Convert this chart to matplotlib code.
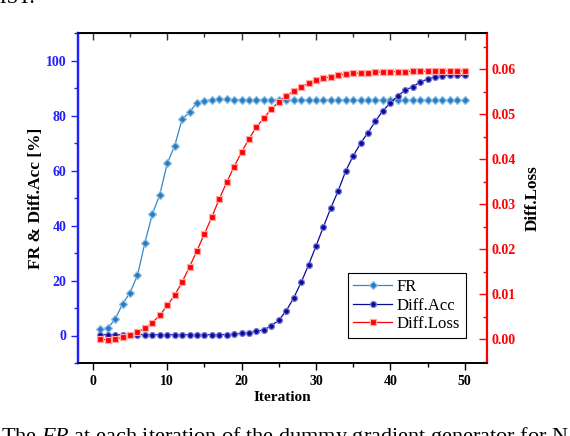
import matplotlib
matplotlib.use("Agg")
import matplotlib.pyplot as plt
from matplotlib.ticker import MultipleLocator

iterations = list(range(1, 51))

fr = [2.4, 2.7, 6.0, 11.5, 15.6, 21.9, 33.8, 44.2, 51.2, 62.6,
      69.0, 78.6, 81.2, 84.7, 85.4, 85.8, 85.9, 85.9, 85.8, 85.8,
      85.8, 85.8, 85.8, 85.8, 85.8, 85.7, 85.7, 85.7, 85.7, 85.7,
      85.7, 85.7, 85.6, 85.6, 85.6, 85.5, 85.5, 85.5, 85.5, 85.5,
      85.5, 85.5, 85.5, 85.5, 85.5, 85.5, 85.5, 85.5, 85.5, 85.5]

diff_acc = [0.3, 0.3, 0.3, 0.3, 0.3, 0.3, 0.3, 0.3, 0.3, 0.3,
            0.3, 0.3, 0.3, 0.3, 0.3, 0.3, 0.3, 0.35, 0.4, 0.8,
            1.0, 1.6, 2.0, 3.6, 5.5, 9.0, 13.6, 19.3, 25.6, 32.5,
            39.5, 46.4, 52.7, 59.8, 65.3, 69.9, 73.8, 77.9, 81.8, 84.5,
            87.2, 89.2, 90.5, 92.1, 93.3, 94.0, 94.5, 94.6, 94.6, 94.6]

diff_loss = [0.0000, -0.00015, 0.0000, 0.0004, 0.0009, 0.0015, 0.0025, 0.0037, 0.0053, 0.0075,
             0.0098, 0.0127, 0.0161, 0.0197, 0.0234, 0.0272, 0.0312, 0.0349, 0.0384, 0.0416,
             0.0446, 0.0472, 0.0492, 0.0512, 0.0528, 0.0541, 0.0552, 0.0561, 0.0569, 0.0576,
             0.0580, 0.0584, 0.0587, 0.0590, 0.0591, 0.0592, 0.0593, 0.0594, 0.0594, 0.0595,
             0.0595, 0.0595, 0.0596, 0.0596, 0.0596, 0.0596, 0.0597, 0.0597, 0.0597, 0.0597]

x_ticks = [0, 10, 20, 30, 40, 50]
left_ticks = [0, 20, 40, 60, 80, 100]
right_ticks = [0.00, 0.01, 0.02, 0.03, 0.04, 0.05, 0.06]

plt.rcParams['font.family'] = ['Liberation Serif', 'DejaVu Serif']
plt.rcParams['mathtext.fontset'] = 'custom'
plt.rcParams['mathtext.it'] = 'Liberation Serif:italic'
plt.rcParams['mathtext.rm'] = 'Liberation Serif'

BLUE_AX = '#2020ff'
RED_AX = '#ff0000'
C_FR = '#3388c8'
C_ACC = '#0a0a9a'
C_LOSS = '#ff0000'

fig = plt.figure(figsize=(5.7, 4.36), dpi=100)
ax = fig.add_axes([78/570, 1 - 363/436, (487-78)/570, (363-33)/436])
ax2 = ax.twinx()

l1, = ax.plot(iterations, fr, color=C_FR, lw=0.9, marker='D', ms=3.9,
              mfc='#2a7cc0', mec='#8cc0e6', mew=0.9, label='FR')
l2, = ax.plot(iterations, diff_acc, color=C_ACC, lw=0.9, marker='o', ms=4.2,
              mfc='#0a0a9a', mec='#7a7ad8', mew=0.9, label='Diff.Acc')
l3, = ax2.plot(iterations, diff_loss, color=C_LOSS, lw=0.9, marker='s', ms=4.2,
               mfc='#ff0000', mec='#ffa8a8', mew=0.9, label='Diff.Loss')

ax.set_xlim(-2, 53)
ax.set_ylim(-10, 110)
ax2.set_ylim(-0.0053, 0.0681)

ax.set_xticks(x_ticks)
ax.xaxis.set_minor_locator(MultipleLocator(5))
ax.set_yticks(left_ticks)
ax.yaxis.set_minor_locator(MultipleLocator(10))
ax2.set_yticks(right_ticks)
ax2.yaxis.set_minor_locator(MultipleLocator(0.005))
ax2.set_yticklabels(['%.2f' % v for v in right_ticks])

ax.tick_params(axis='x', which='both', direction='out', top=False, bottom=True,
               colors='black', labelsize=10, width=1.0)
ax.tick_params(axis='x', which='major', length=5)
ax.tick_params(axis='x', which='minor', length=3)

secx = ax.secondary_xaxis('top')
secx.set_xticks(x_ticks)
secx.xaxis.set_minor_locator(MultipleLocator(5))
secx.tick_params(axis='x', which='both', direction='in', labeltop=False, width=1.0, colors='#333333')
secx.tick_params(axis='x', which='major', length=5)
secx.tick_params(axis='x', which='minor', length=3)
secx.spines['top'].set_color('black')

ax.tick_params(axis='y', which='both', direction='out', colors=BLUE_AX, labelsize=10, width=1.0)
ax.tick_params(axis='y', which='major', length=5)
ax.tick_params(axis='y', which='minor', length=3)
ax2.tick_params(axis='y', which='both', direction='in', colors=RED_AX, labelsize=10, width=1.0)
ax2.tick_params(axis='y', which='major', length=6)
ax2.tick_params(axis='y', which='minor', length=3)

for lab in ax.get_xticklabels() + ax.get_yticklabels() + ax2.get_yticklabels():
    lab.set_fontweight('bold')

ax.spines['left'].set_color(BLUE_AX)
ax.spines['left'].set_linewidth(1.6)
ax2.spines['left'].set_color(BLUE_AX)
ax2.spines['left'].set_linewidth(1.6)
ax2.spines['right'].set_color(RED_AX)
ax2.spines['right'].set_linewidth(1.6)
ax.spines['right'].set_visible(False)
for a in (ax, ax2):
    a.spines['top'].set_linewidth(1.2)
    a.spines['bottom'].set_linewidth(1.2)

ax.set_xlabel('Iteration', fontsize=11, fontweight='bold', labelpad=2)
ax.set_ylabel('FR & Diff.Acc [%]', fontsize=12.5, fontweight='bold', labelpad=1)
ax2.set_ylabel('Diff.Loss', fontsize=12.3, fontweight='bold', labelpad=6)

leg = ax2.legend(handles=[l1, l2, l3], loc='lower right',
                 bbox_to_anchor=(0.9487, 0.0758), borderaxespad=0,
                 fontsize=12, fancybox=False, framealpha=1, edgecolor='black',
                 handlelength=2.3, handletextpad=0.3, labelspacing=0.15,
                 borderpad=0.35)
leg.get_frame().set_linewidth(0.8)

fig.text(0.002, -0.014, 'The $FR$ at each iteration of the dummy gradient generator for N',
         fontsize=16, ha='left', va='baseline')
fig.text(0.062, 0.992, 'MNIST.', fontsize=15, ha='right', va='baseline')

fig.savefig('out.png', dpi=100)
